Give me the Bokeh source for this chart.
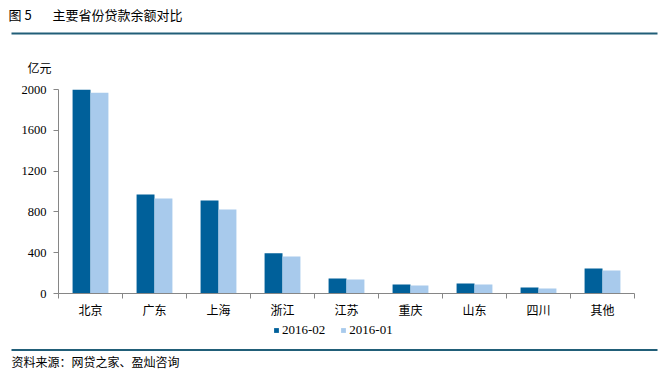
from bokeh.plotting import figure
from bokeh.layouts import column, row
from bokeh.models import (ColumnDataSource, Range1d, LinearAxis, FixedTicker,
                          Label, BoxAnnotation, Legend, LegendItem)
from bokeh.transform import dodge
from bokeh.embed import file_html
from bokeh.resources import INLINE

# ---- data ----
provinces = ["北京", "广东", "上海", "浙江", "江苏", "重庆", "山东", "四川", "其他"]
loans_2016_02 = [2003, 970, 912, 395, 147, 88, 98, 59, 245]
loans_2016_01 = [1968, 931, 824, 363, 137, 78, 88, 49, 225]
y_ticks = [0, 400, 800, 1200, 1600, 2000]
series_names = ["2016-02", "2016-01"]
fig_no = "图 5"
title_text = "主要省份贷款余额对比"
unit_text = "亿元"
source_text = "资料来源：网贷之家、盈灿咨询"

DARK = "#00609A"
LIGHT = "#A8CAEC"
RULE = "#215E78"
AXIS = "#868686"
CJK = "Noto Sans CJK SC"
SERIF = "Liberation Serif"
W = 664


def blank(height):
    f = figure(width=W, height=height, x_range=Range1d(0, W), y_range=Range1d(height, 0),
               output_backend="svg", toolbar_location=None,
               x_axis_location=None, y_axis_location=None, min_border=0)
    f.outline_line_color = None
    f.xgrid.visible = False
    f.ygrid.visible = False
    return f


# ---- header: title, rule, unit ----
HH = 80
header = blank(HH)
header.add_layout(Label(x=8, y=14, text=fig_no, text_font=CJK, text_font_size="13px",
                        text_color="black", text_baseline="middle", text_align="left"))
header.add_layout(Label(x=52, y=14, text=title_text, text_font=CJK, text_font_size="13px",
                        text_color="black", text_baseline="middle", text_align="left"))
header.add_layout(BoxAnnotation(left=11, right=657, top=32, bottom=34,
                                fill_color=RULE, fill_alpha=1, line_color=None))
header.add_layout(Label(x=27, y=67, text=unit_text, text_font=CJK, text_font_size="12px",
                        text_color="black", text_baseline="middle", text_align="left"))

# ---- main chart ----
n = len(provinces)
centers = [i + 0.5 for i in range(n)]
src = ColumnDataSource(dict(pos=centers, cat=provinces, a=loans_2016_02, b=loans_2016_01))

BOTTOM = 27
MH = 293 - HH + BOTTOM
p = figure(width=W, height=MH, x_range=Range1d(0, n),
           y_range=Range1d(0, 2000), output_backend="svg", toolbar_location=None,
           x_axis_location=None, y_axis_location=None,
           min_border_left=58, min_border_right=W - 634, min_border_top=89 - HH,
           min_border_bottom=BOTTOM)
p.outline_line_color = None
p.xgrid.visible = False
p.ygrid.visible = False

p.vbar(x=dodge("pos", -0.14), top="a", width=0.28, source=src,
       fill_color=DARK, line_color=None)
p.vbar(x=dodge("pos", 0.14), top="b", width=0.28, source=src,
       fill_color=LIGHT, line_color=None)

yax = LinearAxis(ticker=FixedTicker(ticks=y_ticks))
yax.axis_line_color = AXIS
yax.major_tick_line_color = AXIS
yax.major_tick_out = 5
yax.major_tick_in = 0
yax.minor_tick_line_color = None
yax.major_label_text_font = SERIF
yax.major_label_text_font_size = "12.5px"
yax.major_label_text_color = "black"
yax.major_label_standoff = 7
p.add_layout(yax, "left")

xax = LinearAxis(ticker=FixedTicker(ticks=centers, minor_ticks=list(range(n + 1))),
                 major_label_overrides={c: name for c, name in zip(centers, provinces)})
xax.axis_line_color = AXIS
xax.major_tick_line_color = None
xax.major_tick_out = 0
xax.major_tick_in = 0
xax.minor_tick_line_color = AXIS
xax.minor_tick_out = 5
xax.minor_tick_in = 0
xax.major_label_text_font = CJK
xax.major_label_text_font_size = "12px"
xax.major_label_text_color = "black"
xax.major_label_standoff = 2
p.add_layout(xax, "below")

# ---- footer: legend, rule and source ----
top0 = HH + MH
FH = 372 - top0
footer = blank(FH)
k1 = footer.vbar(x=[0], top=[0], width=1, fill_color=DARK, line_color=None)
k2 = footer.vbar(x=[0], top=[0], width=1, fill_color=LIGHT, line_color=None)
legend = Legend(items=[LegendItem(label=series_names[0], renderers=[k1]),
                       LegendItem(label=series_names[1], renderers=[k2])],
                orientation="horizontal", location=(273, FH - (338 - top0)))
legend.glyph_width = 6
legend.glyph_height = 6
legend.label_standoff = 3
legend.spacing = 15
legend.padding = 0
legend.margin = 0
legend.border_line_color = None
legend.background_fill_alpha = 0
legend.label_text_font = SERIF
legend.label_text_font_size = "13px"
legend.label_text_color = "black"
legend.label_height = 14
footer.add_layout(legend, "center")

footer.add_layout(BoxAnnotation(left=11, right=657, top=348.5 - top0, bottom=350.5 - top0,
                                fill_color=RULE, fill_alpha=1, line_color=None))
footer.add_layout(Label(x=11, y=361 - top0, text=source_text, text_font=CJK,
                        text_font_size="12px", text_color="black",
                        text_baseline="middle", text_align="left"))

layout = column(row(header), row(p), row(footer), spacing=0)
open("out.html", "w").write(file_html(layout, INLINE))
